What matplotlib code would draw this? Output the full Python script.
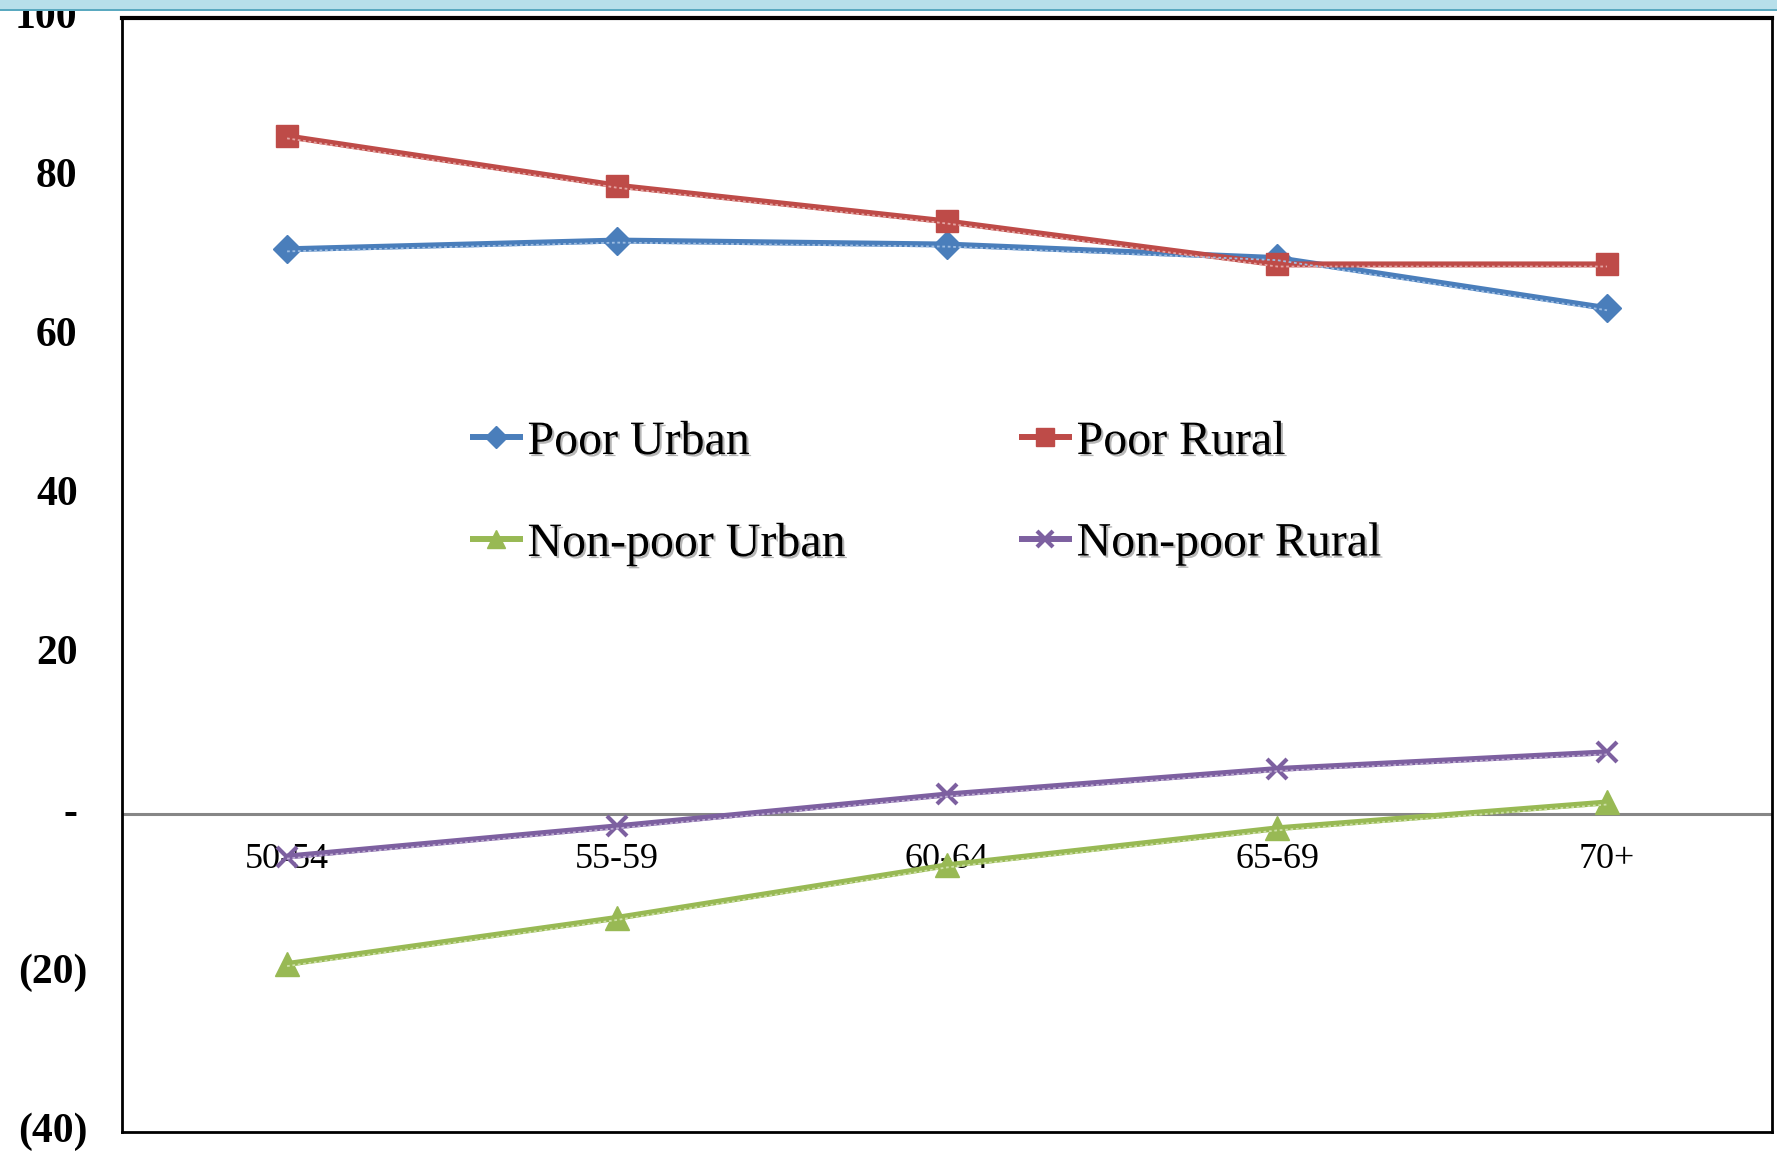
import matplotlib
matplotlib.use('Agg')
import matplotlib.pyplot as plt
import matplotlib.patheffects as pe
from matplotlib.patches import Rectangle
import matplotlib.transforms as mtransforms

# ---------------- data ----------------
categories = ['50-54', '55-59', '60-64', '65-69', '70+']
poor_urban = [70.9, 72.0, 71.5, 69.8, 63.5]
poor_rural = [85.1, 78.9, 74.4, 69.0, 69.0]
nonpoor_urban = [-18.9, -13.1, -6.5, -1.85, 1.4]
nonpoor_rural = [-5.4, -1.6, 2.4, 5.6, 7.7]
series_names = ['Poor Urban', 'Poor Rural', 'Non-poor Urban', 'Non-poor Rural']
ytick_values = [100, 80, 60, 40, 20, 0, -20, -40]
ytick_labels = ['100', '80', '60', '40', '20', '-', '(20)', '(40)']

# ---------------- style ----------------
serif = ['Liberation Serif', 'DejaVu Serif']
colors = ['#4a7ebb', '#be4b48', '#98b954', '#7d60a0']
light = ['#9dbde3', '#e4a4a2', '#cde0a6', '#bfadd4']
markers = ['D', 's', '^', 'x']
msizes = [14, 16, 17, 15]

fig = plt.figure(figsize=(17.77, 11.56), dpi=100)
ax = fig.add_axes([0.0687, 0.0208, 0.9285, 0.9639])

x = list(range(len(categories)))
all_series = [poor_urban, poor_rural, nonpoor_urban, nonpoor_rural]

ax.axhline(0, color='#868686', lw=2.2, zorder=1)

shadow_tr = ax.transData + mtransforms.ScaledTranslation(0, -1.5 / 72, fig.dpi_scale_trans)
handles = []
for vals, name, c, lc, m, ms in zip(all_series, series_names, colors, light, markers, msizes):
    h, = ax.plot(x, vals, color=c, lw=4.3, marker=m, markersize=ms,
                 markeredgewidth=3 if m == 'x' else 1, markeredgecolor=c,
                 markerfacecolor=c, label=name, zorder=3, solid_capstyle='butt')
    handles.append(h)
    ax.plot(x, vals, color=lc, lw=1.3, dashes=(1.5, 1.5), transform=shadow_tr, zorder=3.5)

ax.set_xlim(-0.5, len(categories) - 0.5)
ax.set_ylim(-40, 100)
ax.set_xticks([])
ax.set_yticks([])

for sp in ax.spines.values():
    sp.set_linewidth(2)
    sp.set_color('black')
ax.spines['top'].set_linewidth(3)

# y tick labels (Excel accounting style alignment)
for v, lab in zip(ytick_values, ytick_labels):
    dx = -25 if lab.startswith('(') else -32
    ax.annotate(lab, xy=(0, v), xycoords=ax.get_yaxis_transform(),
                xytext=(dx, 0), textcoords='offset points',
                ha='right', va='center', fontsize=30, fontweight='bold',
                family=serif, annotation_clip=False)

# x category labels just below zero line
for xi, lab in zip(x, categories):
    ax.annotate(lab, xy=(xi, 0), xycoords='data', xytext=(0, -33),
                textcoords='offset points', ha='center', va='center',
                fontsize=26, family=serif, zorder=2)

# legend: rows = (Poor Urban, Poor Rural), (Non-poor Urban, Non-poor Rural)
order = [0, 2, 1, 3]
leg = ax.legend([handles[i] for i in order], [series_names[i] for i in order],
                ncol=2, loc='center left', bbox_to_anchor=(0.2645, 0.5735),
                bbox_transform=fig.transFigure, frameon=False, borderpad=0,
                borderaxespad=0, handlelength=1.1,
                handletextpad=0.1, columnspacing=3.62, labelspacing=1.2,
                markerscale=0.78, prop={'family': serif, 'size': 34.5})
for t in leg.get_texts():
    t.set_path_effects([pe.SimplePatchShadow(offset=(1.5, -1.5), shadow_rgbFace='#999999', alpha=0.7),
                        pe.Normal()])

# top decorative band
fig.add_artist(Rectangle((0, 1 - 10 / 1156), 1, 10 / 1156, transform=fig.transFigure,
                         facecolor='#b7dfea', edgecolor='none', zorder=10))
fig.add_artist(Rectangle((0, 1 - 11 / 1156), 1, 2 / 1156, transform=fig.transFigure,
                         facecolor='#5aa9c0', edgecolor='none', zorder=10))

fig.savefig('out.png', dpi=100)
